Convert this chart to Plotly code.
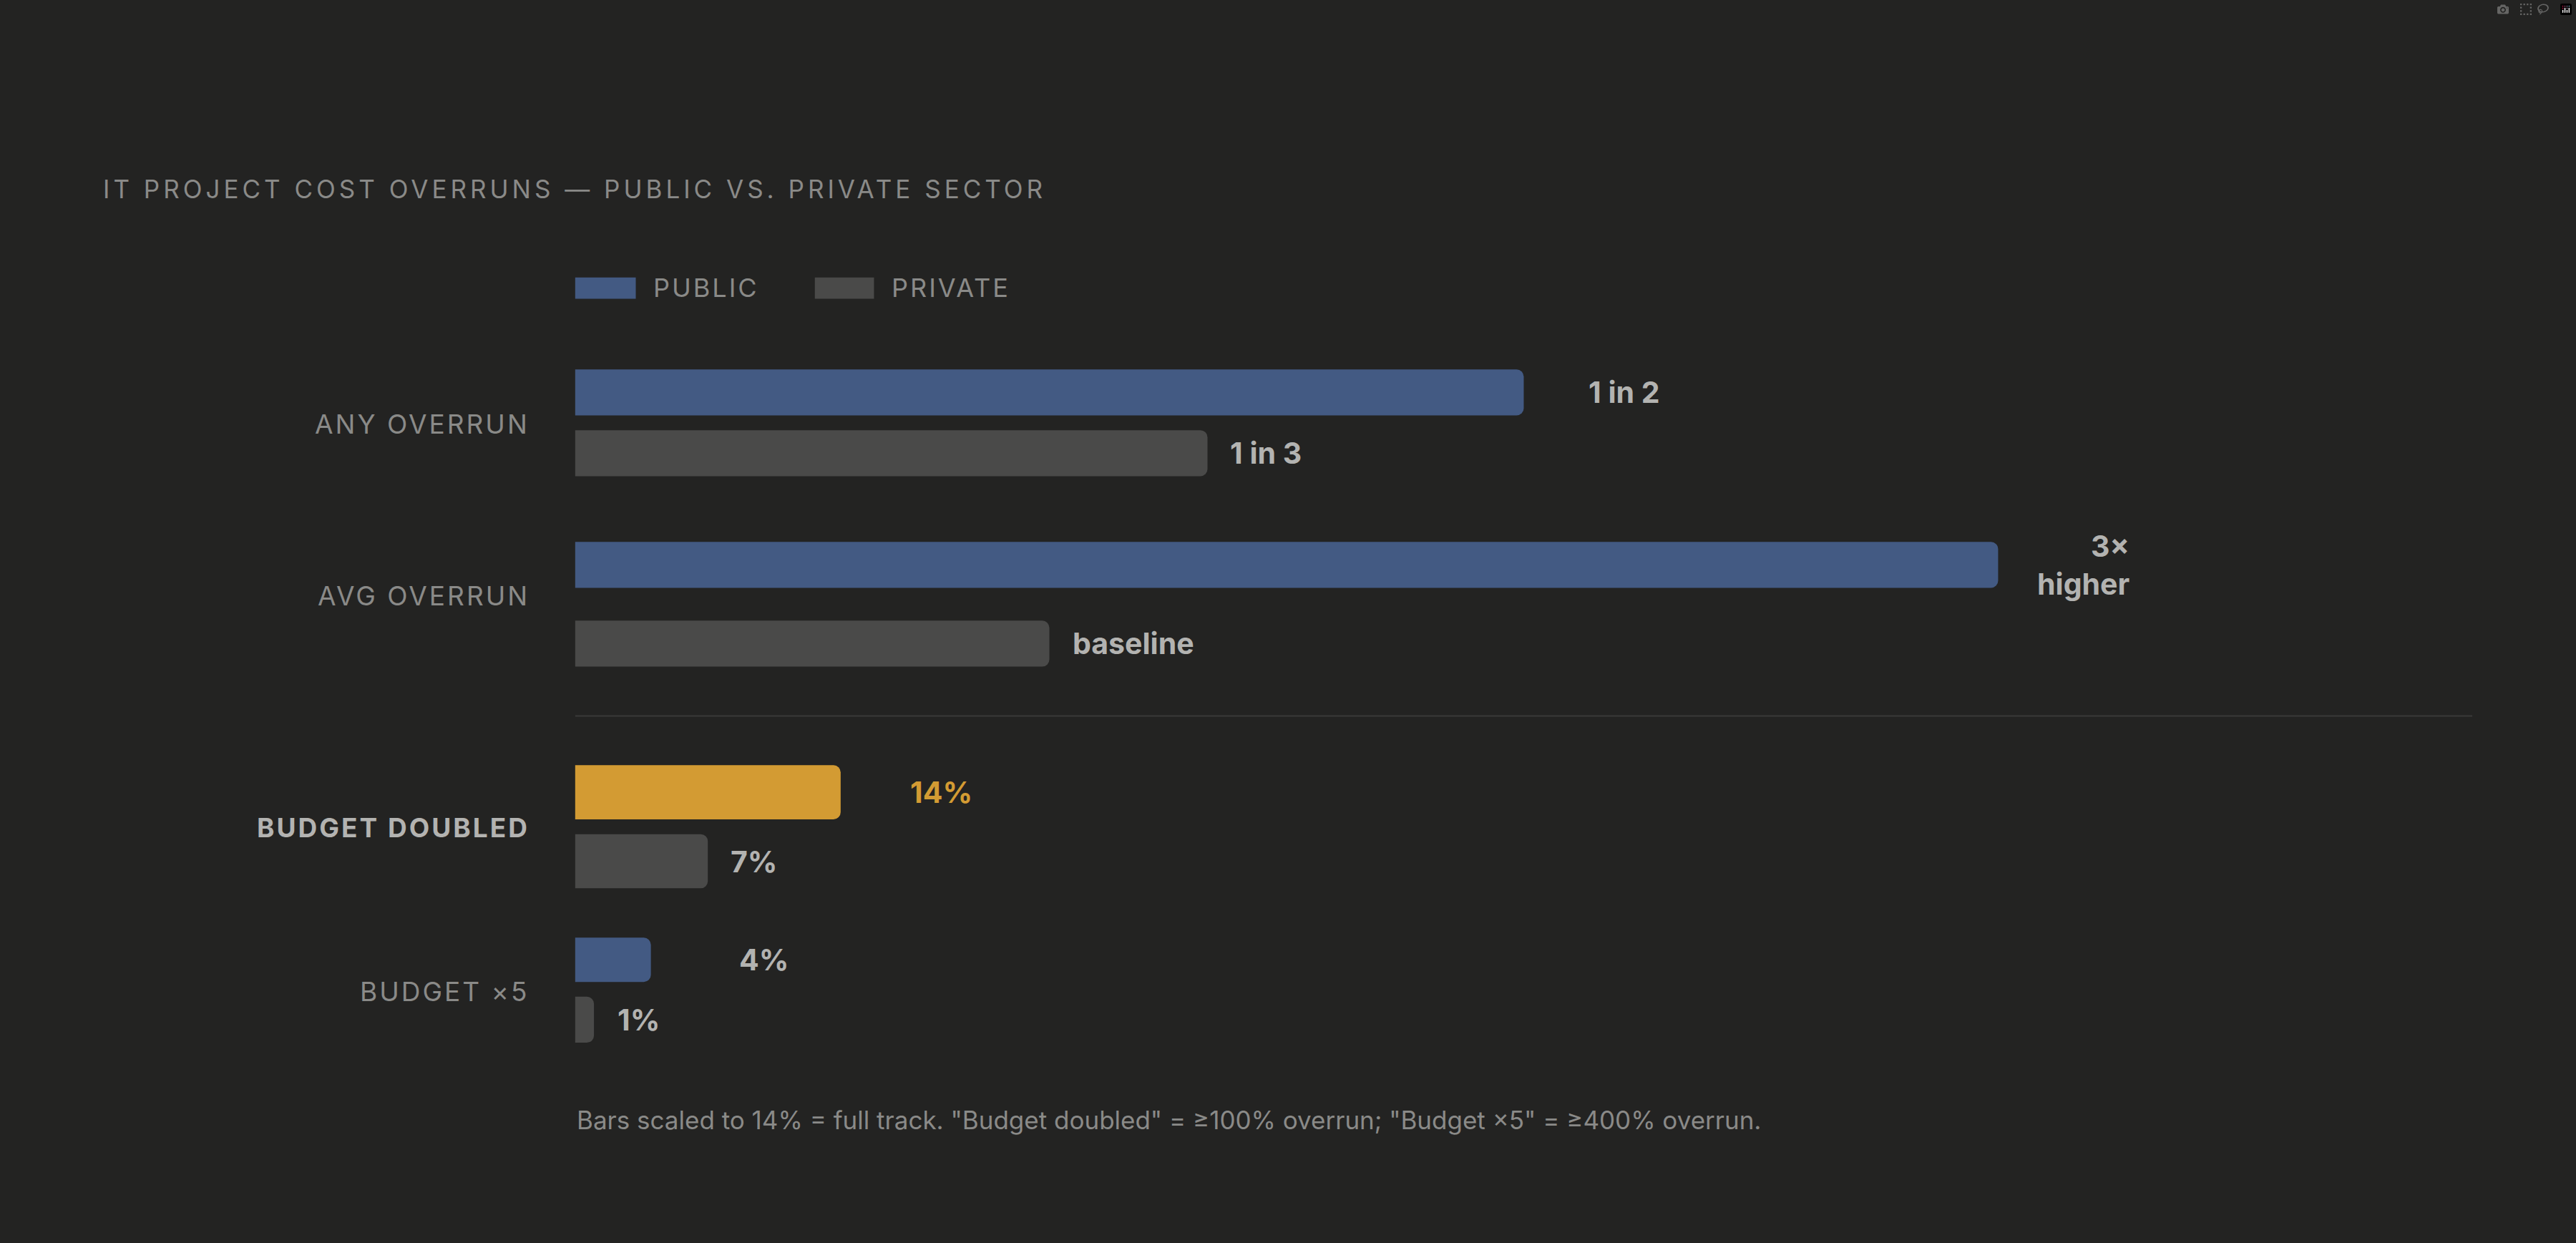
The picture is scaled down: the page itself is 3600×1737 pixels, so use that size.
import plotly.graph_objects as go

categories = ["ANY OVERRUN", "AVG OVERRUN", "BUDGET DOUBLED", "BUDGET ×5"]
public_vals = [0.50, 0.75, 0.14, 0.04]      # fraction of full track
private_vals = [1/3, 0.25, 0.07, 0.01]
public_labels = ["1 in 2", "3×<br>higher", "14%", "4%"]
private_labels = ["1 in 3", "baseline", "7%", "1%"]
highlight = [False, False, True, False]
title = "IT PROJECT COST OVERRUNS — PUBLIC VS. PRIVATE SECTOR"
legend_names = ["PUBLIC", "PRIVATE"]
footnote = 'Bars scaled to 14% = full track. "Budget doubled" = ≥100% overrun; "Budget ×5" = ≥400% overrun.'

# layout (reference display px, 1568 wide)
W, H = 3600, 1737
X0, X1 = 350, 1505
pub_y = [239, 344, 482.5, 584.5]
pub_h = [28, 28, 33, 27]
prv_y = [276, 392, 524.5, 621]
prv_h = [28, 28, 33, 28]
cat_y = [258, 363, 504, 604]
pub_lab_x = [966, 1297, 553, 449]
prv_lab_x = [748, 652, 444, 375]

BG = "#232322"; BLUE = "#435a83"; GREY = "#4a4a49"; GOLD = "#d39b33"
TXT = "#8a8a88"; VAL = "#b3b3b1"
FONT = "Inter"

def dx(px):
    return (px - X0) / (X1 - X0)

fig = go.Figure()
pub_colors = [GOLD if h else BLUE for h in highlight]
fig.add_trace(go.Bar(orientation="h", x=public_vals, y=pub_y, width=pub_h,
                     marker=dict(color=pub_colors, line_width=0), hoverinfo="skip"))
fig.add_trace(go.Bar(orientation="h", x=private_vals, y=prv_y, width=prv_h,
                     marker=dict(color=GREY, line_width=0), hoverinfo="skip"))

ann = []
for i, c in enumerate(categories):
    ann.append(dict(x=323 / 1568, xref="paper", y=cat_y[i], yref="y", text=c,
                    showarrow=False, xanchor="right", yanchor="middle", align="right",
                    font=dict(family=FONT, size=37, color=VAL if highlight[i] else TXT,
                              weight=700 if highlight[i] else 400)))
    multiline = "<br>" in public_labels[i]
    ann.append(dict(x=dx(pub_lab_x[i]), y=pub_y[i], text=public_labels[i], showarrow=False,
                    xanchor="right" if multiline else "left", yanchor="middle", align="right",
                    font=dict(family=FONT, size=41, color=GOLD if highlight[i] else VAL, weight=700)))
    ann.append(dict(x=dx(prv_lab_x[i]), y=prv_y[i], text=private_labels[i], showarrow=False,
                    xanchor="left", yanchor="middle",
                    font=dict(family=FONT, size=41, color=VAL, weight=700)))

ann.append(dict(x=62 / 1568, xref="paper", y=115, text=title, align="left",
                showarrow=False, xanchor="left", yanchor="middle",
                font=dict(family=FONT, size=35, color=TXT)))
ann.append(dict(x=dx(397), y=175, text=legend_names[0], showarrow=False, xanchor="left", yanchor="middle",
                align="left", font=dict(family=FONT, size=36, color=TXT)))
ann.append(dict(x=dx(542), y=175, text=legend_names[1], showarrow=False, xanchor="left", yanchor="middle",
                align="left", font=dict(family=FONT, size=36, color=TXT)))
ann.append(dict(x=0, y=682, text=footnote, showarrow=False, xanchor="left", yanchor="middle",
                font=dict(family=FONT, size=35, color=TXT)))

shapes = [
    dict(type="rect", x0=dx(350), x1=dx(387), y0=169, y1=182, fillcolor=BLUE, line_width=0),
    dict(type="rect", x0=dx(496), x1=dx(532), y0=169, y1=182, fillcolor=GREY, line_width=0),
    dict(type="line", x0=0, x1=1, y0=436, y1=436, line=dict(color="#3a3a39", width=2)),
]

fig.update_layout(
    width=W, height=H, paper_bgcolor=BG, plot_bgcolor=BG,
    margin=dict(l=0, r=0, t=0, b=0), showlegend=False, barmode="overlay",
    barcornerradius=10,
    xaxis=dict(domain=[X0 / 1568, X1 / 1568], range=[0, 1], visible=False, fixedrange=True),
    yaxis=dict(range=[757, 0], visible=False, fixedrange=True),
    annotations=ann, shapes=shapes,
)

spaced = [title] + legend_names + categories
post = """
document.body.style.margin='0';document.body.style.background='%s';
var sp = %s;
document.querySelectorAll('.annotation-text').forEach(function(t){
  var s = t.textContent;
  if (s === sp[0]) t.style.letterSpacing = '5px';
  else if (sp.indexOf(s) > 0) t.style.letterSpacing = '3px';
});
""" % (BG, str(spaced).replace("'", '"'))
fig.write_html("out.html", post_script=post)
